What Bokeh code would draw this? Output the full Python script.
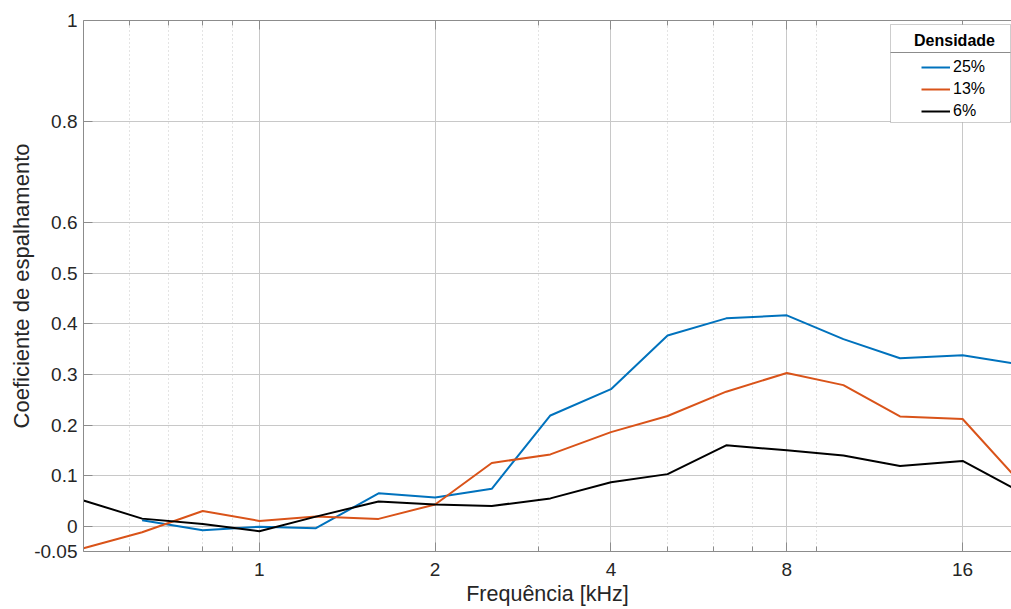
import numpy as np
from bokeh.plotting import figure
from bokeh.models import (LogAxis, FixedTicker, CustomJSTickFormatter, Legend,
                          LegendItem, BoxAnnotation, Label, Range1d)
from bokeh.embed import file_html
from bokeh.resources import INLINE

# ---- data ----
freq = [0.5, 0.63, 0.8, 1, 1.25, 1.6, 2, 2.5, 3.15, 4, 5, 6.3, 8, 10, 12.5, 16, 20]
freq_25 = [0.63, 0.8, 1, 1.25, 1.6, 2, 2.5, 3.15, 4, 5, 6.3, 8, 10, 12.5, 16, 20]
dens_25 = [0.012, -0.008, -0.001, -0.004, 0.065, 0.057, 0.074, 0.219, 0.271, 0.377,
           0.411, 0.417, 0.370, 0.332, 0.338, 0.320]
dens_13 = [-0.0435, -0.012, 0.030, 0.0105, 0.019, 0.0145, 0.043, 0.125, 0.142, 0.186,
           0.218, 0.266, 0.303, 0.279, 0.217, 0.212, 0.089]
dens_6 = [0.051, 0.015, 0.0045, -0.010, 0.019, 0.049, 0.043, 0.040, 0.055, 0.087,
          0.103, 0.160, 0.150, 0.140, 0.119, 0.129, 0.069]
labels = ["25%", "13%", "6%"]
x_ticks = [1, 2, 4, 8, 16]
x_minor = [0.6, 0.7, 0.8, 0.9, 3, 5, 6, 7, 9]
y_ticks = [-0.05, 0, 0.1, 0.2, 0.3, 0.4, 0.5, 0.6, 0.8, 1]

FONT = "Liberation Sans"
TXT = "#262626"
AXC = "#8c8c8c"
GRID = "#c8c8c8"

p = figure(width=1011, height=609, x_axis_type="log",
           x_range=Range1d(0.5, 19.4), y_range=Range1d(-0.05, 1),
           output_backend="svg", toolbar_location=None,
           min_border_left=83, min_border_right=0, min_border_top=20,
           min_border_bottom=58)
p.outline_line_color = None
p.background_fill_color = "white"

xticker = FixedTicker(ticks=x_ticks, minor_ticks=x_minor)
yticker = FixedTicker(ticks=y_ticks, minor_ticks=[])
fmt = CustomJSTickFormatter(code="return String(tick)")

xa = p.xaxis[0]
xa.ticker = xticker
xa.formatter = fmt
xa.axis_label = "Frequência [kHz]"
ya = p.yaxis[0]
ya.ticker = yticker
ya.formatter = CustomJSTickFormatter(code="return String(tick)")
ya.axis_label = "Coeficiente de espalhamento"

for ax in (xa, ya):
    ax.axis_line_color = AXC
    ax.major_tick_line_color = AXC
    ax.minor_tick_line_color = AXC
    ax.major_tick_in = 9
    ax.major_tick_out = 0
    ax.minor_tick_in = 5
    ax.minor_tick_out = 0
    ax.major_label_text_font = FONT
    ax.major_label_text_font_size = "19px"
    ax.major_label_text_color = TXT
    ax.axis_label_text_font = FONT
    ax.axis_label_text_font_size = "22px"
    ax.axis_label_text_font_style = "normal"
    ax.axis_label_text_color = TXT
xa.axis_label_text_font_size = "21.5px"
ya.minor_tick_in = 0
ya.major_label_standoff = 6
ya.axis_label_standoff = -3
xa.major_label_standoff = 11
xa.axis_label_standoff = 3

top = LogAxis(ticker=xticker, formatter=CustomJSTickFormatter(code="return ''"),
              major_label_text_font_size="0px", major_label_standoff=0,
              axis_line_color=AXC, major_tick_line_color=AXC, minor_tick_line_color=AXC,
              major_tick_in=9, major_tick_out=0, minor_tick_in=5, minor_tick_out=0)
p.add_layout(top, "above")

p.xgrid.ticker = xticker
p.ygrid.ticker = yticker
p.xgrid.grid_line_color = GRID
p.xgrid.minor_grid_line_color = GRID
p.xgrid.minor_grid_line_dash = "1 3"
p.ygrid.grid_line_color = GRID

r25 = p.line(freq_25, dens_25, line_color="#0072BD", line_width=2)
r13 = p.line(freq, dens_13, line_color="#D95319", line_width=2)
r6 = p.line(freq, dens_6, line_color="#000000", line_width=2)

# legend frame (screen units relative to frame, y from bottom)
box = BoxAnnotation(left=807, right=927, top=527, bottom=429,
                    left_units="screen", right_units="screen",
                    top_units="screen", bottom_units="screen",
                    fill_color="white", fill_alpha=1.0,
                    line_color="#5a5a5a", line_width=1)
p.add_layout(box)
sep = BoxAnnotation(left=807, right=927, top=499.5, bottom=498.5,
                    left_units="screen", right_units="screen",
                    top_units="screen", bottom_units="screen",
                    fill_color="#8c8c8c", fill_alpha=1.0, line_color=None)
p.add_layout(sep)
title = Label(x=871, y=511, x_units="screen", y_units="screen", text="Densidade",
              text_align="center", text_baseline="middle", text_font=FONT,
              text_font_size="16px", text_font_style="bold", text_color="#000000")
p.add_layout(title)

legend = Legend(items=[LegendItem(label=labels[0], renderers=[r25]),
                       LegendItem(label=labels[1], renderers=[r13]),
                       LegendItem(label=labels[2], renderers=[r6])],
                location=(838, 430), padding=0, margin=0,
                border_line_color=None, background_fill_alpha=0,
                glyph_width=29, glyph_height=20, label_height=20, spacing=2,
                label_standoff=3, label_text_font=FONT, label_text_font_size="16px",
                label_text_color="#000000")
p.add_layout(legend)

open("out.html", "w").write(file_html(p, INLINE))
